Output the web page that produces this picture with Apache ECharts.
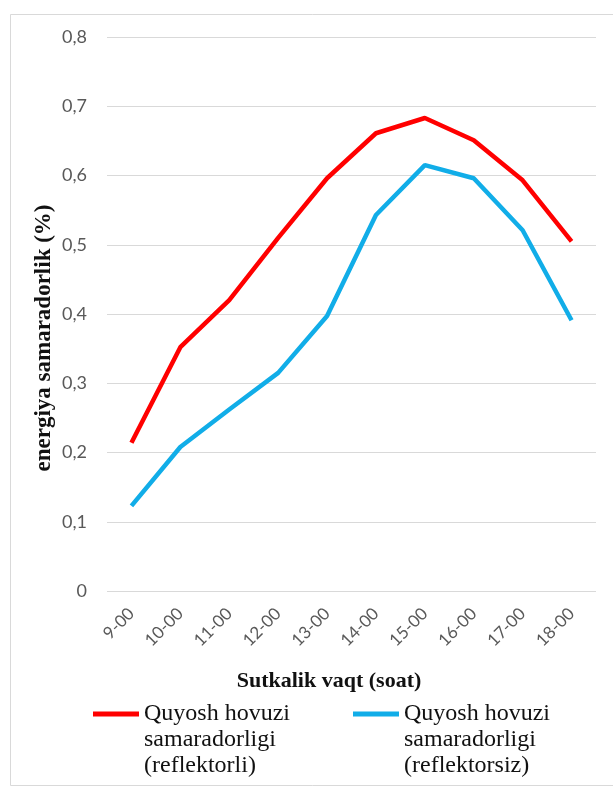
<!DOCTYPE html>
<html>
<head>
<meta charset="utf-8">
<script src="https://cdn.jsdelivr.net/npm/echarts@6/dist/echarts.min.js"></script>
<style>
html,body{margin:0;padding:0;background:#fff;}
#chart{width:613px;height:787px;}
</style>
</head>
<body>
<div id="chart"></div>
<script>
var categories = ['9-00','10-00','11-00','12-00','13-00','14-00','15-00','16-00','17-00','18-00'];
var reflektorli = [0.214, 0.352, 0.42, 0.51, 0.596, 0.661, 0.683, 0.651, 0.593, 0.505];
var reflektorsiz = [0.123, 0.208, 0.262, 0.315, 0.397, 0.543, 0.615, 0.596, 0.521, 0.391];
var seriesNames = ['Quyosh hovuzi\nsamaradorligi\n(reflektorli)', 'Quyosh hovuzi\nsamaradorligi\n(reflektorsiz)'];
var yTicks = [0, 0.1, 0.2, 0.3, 0.4, 0.5, 0.6, 0.7, 0.8];

var chart = echarts.init(document.getElementById('chart'));
var serif = '"Liberation Serif", "DejaVu Serif", serif';
var sans = 'Lato, "Open Sans", sans-serif';
// icon: bar near the top of a tall box so it lines up with the first text line
var legendIcon = 'path://M0,0 L46,0 M0,10.5 L46,10.5 L46,15.5 L0,15.5 Z M0,78 L46,78';
function legendCfg(name, left) {
  return {
    data: [name], left: left, top: 701, padding: 0,
    itemWidth: 46, itemHeight: 78, itemGap: 0,
    icon: legendIcon,
    itemStyle: {borderWidth: 0},
    textStyle: {fontFamily: serif, fontSize: 24, color: '#111', lineHeight: 26}
  };
}
chart.setOption({
  backgroundColor: '#fff',
  animation: false,
  grid: {left: 107, right: 17, top: 37, bottom: 196, containLabel: false},
  xAxis: {
    type: 'category',
    data: categories,
    boundaryGap: true,
    axisLine: {show: false},
    axisTick: {show: false},
    axisLabel: {rotate: 45, color: '#595959', fontSize: 17, fontFamily: sans, margin: 20},
    name: 'Sutkalik vaqt (soat)',
    nameLocation: 'middle',
    nameGap: 79,
    nameTextStyle: {fontFamily: serif, fontWeight: 'bold', fontSize: 22, color: '#111', padding: [0, 45, 0, 0]}
  },
  yAxis: {
    type: 'value',
    min: 0, max: 0.8, interval: 0.1,
    axisLine: {show: false},
    axisTick: {show: false},
    splitLine: {lineStyle: {color: '#d9d9d9', width: 1}},
    axisLabel: {
      color: '#595959', fontSize: 18, fontFamily: sans, margin: 20,
      formatter: function (v) {
        var t = yTicks.filter(function (x) { return Math.abs(x - v) < 1e-9; });
        return t.length ? String(Math.round(v * 10) / 10).replace('.', ',') : '';
      }
    }
  },
  legend: [legendCfg(seriesNames[0], 93), legendCfg(seriesNames[1], 353)],
  graphic: [
    {type: 'rect', shape: {x: 10.5, y: 14.5, width: 620, height: 771}, style: {fill: 'none', stroke: '#d9d9d9', lineWidth: 1}, silent: true},
    {type: 'text', x: 44, y: 338, rotation: Math.PI / 2,
     style: {text: 'energiya samaradorlik (%)', fontFamily: serif, fontWeight: 'bold', fontSize: 23, fill: '#111', align: 'center', verticalAlign: 'middle'}}
  ],
  series: [
    {name: seriesNames[0], type: 'line', data: reflektorli, showSymbol: false, symbol: 'none',
     lineStyle: {color: '#ff0000', width: 4.5}, itemStyle: {color: '#ff0000'}},
    {name: seriesNames[1], type: 'line', data: reflektorsiz, showSymbol: false, symbol: 'none',
     lineStyle: {color: '#11ade8', width: 4.5}, itemStyle: {color: '#11ade8'}}
  ]
});
</script>
</body>
</html>
